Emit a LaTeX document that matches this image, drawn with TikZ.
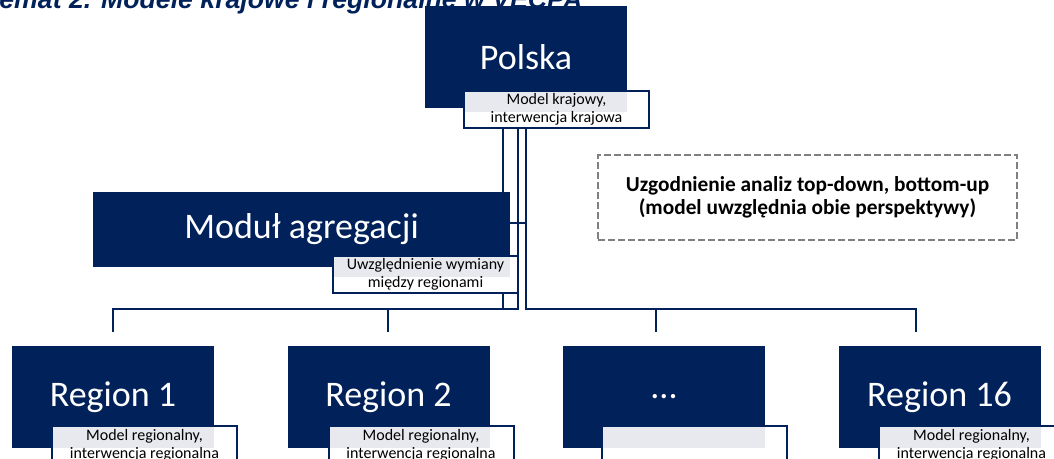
\documentclass[tikz,border=0pt]{standalone}
\usepackage{fontspec}
\setmainfont{Carlito}
\newfontfamily\titlefont{Liberation Sans}
\usetikzlibrary{calc}
\definecolor{navy}{RGB}{0,33,89}
\definecolor{lblgray}{RGB}{231,233,238}
\definecolor{dashgray}{RGB}{128,128,128}
\newlength\pxu
\setlength\pxu{0.75pt}
\tikzset{
	box/.style={fill=navy, text=white, inner sep=0pt, minimum width=202\pxu, minimum height=102\pxu, font=\fontsize{27}{32}\selectfont},
	lbl/.style={draw=navy, line width=1.5pt, fill=white, inner sep=0pt, minimum width=185\pxu, minimum height=37\pxu, align=center, font=\fontsize{12}{13.5}\selectfont,
		path picture={\fill[lblgray] (path picture bounding box.north west) rectangle ($(#1.east |- path picture bounding box.center)+(0,3)$);}},
	note/.style={draw=dashgray, line width=1.5pt, dash pattern=on 5pt off 2.5pt, inner sep=0pt, minimum width=419\pxu, minimum height=85\pxu, align=center, font=\bfseries\fontsize{16}{17.5}\selectfont},
	conn/.style={draw=navy, line width=2pt}
}
\begin{document}
\begin{tikzpicture}[x=0.75pt, y=-0.75pt]
	\useasboundingbox (0,0) rectangle (1054,459);
	\node[anchor=base east, text=navy, font=\titlefont\bfseries\itshape\fontsize{20}{24}\selectfont] (title) at (587,9) {Schemat 2. Modele krajowe i regionalne w VECPA};

	% bus points
	\coordinate (trunkA) at (503,309);
	\coordinate (trunkB) at (518,309);
	\coordinate (trunkC) at (526,309);
	\coordinate (tick) at (526,223);
	\coordinate (d1) at (113,332);
	\coordinate (d2) at (388,332);
	\coordinate (d3) at (656,332);
	\coordinate (d4) at (916,332);

	\node[box] (polska) at (526,57) {Polska};
	\node[box, minimum width=417\pxu, minimum height=75\pxu] (modul) at (301.5,229.5) {Moduł agregacji};
	\node[box] (reg1) at (113,397) {Region 1};
	\node[box] (reg2) at (388.5,397) {Region 2};
	\node[box] (regx) at (664,397) {...};
	\node[box] (reg16) at (939.5,397) {Region 16};

	\node[lbl=polska] (polska-lbl) at (556.5,109.5) {Model krajowy,\\interwencja krajowa};

	\draw[conn] (polska-lbl.south -| trunkA) -- (modul.north -| trunkA);
	\draw[conn] (polska-lbl.south -| trunkB) -- (trunkB) -- (trunkB -| d1) -- (d1);
	\draw[conn] (trunkB -| d2) -- (d2);
	\draw[conn] (polska-lbl.south -| trunkC) -- (trunkC) -- (trunkC -| d4) -- (d4);
	\draw[conn] (trunkC -| d3) -- (d3);
	\draw[conn] (tick -| modul.east) -- (tick);

	\node[lbl=modul] (modul-lbl) at (425.5,274.5) {Uwzględnienie wymiany\\między regionami};
	\draw[conn] (modul-lbl.south -| trunkA) -- (trunkA);

	\node[lbl=reg1] (reg1-lbl) at (144.5,445) {Model regionalny,\\interwencja regionalna};
	\node[lbl=reg2] (reg2-lbl) at (421,445) {Model regionalny,\\interwencja regionalna};
	\node[lbl=regx] (regx-lbl) at (694.5,445) {};
	\node[lbl=reg16] (reg16-lbl) at (971.5,445) {Model regionalny,\\interwencja regionalna};

	\node[note] (note) at (807.5,197.5) {Uzgodnienie analiz top-down, bottom-up\\(model uwzględnia obie perspektywy)};
\end{tikzpicture}
\end{document}
